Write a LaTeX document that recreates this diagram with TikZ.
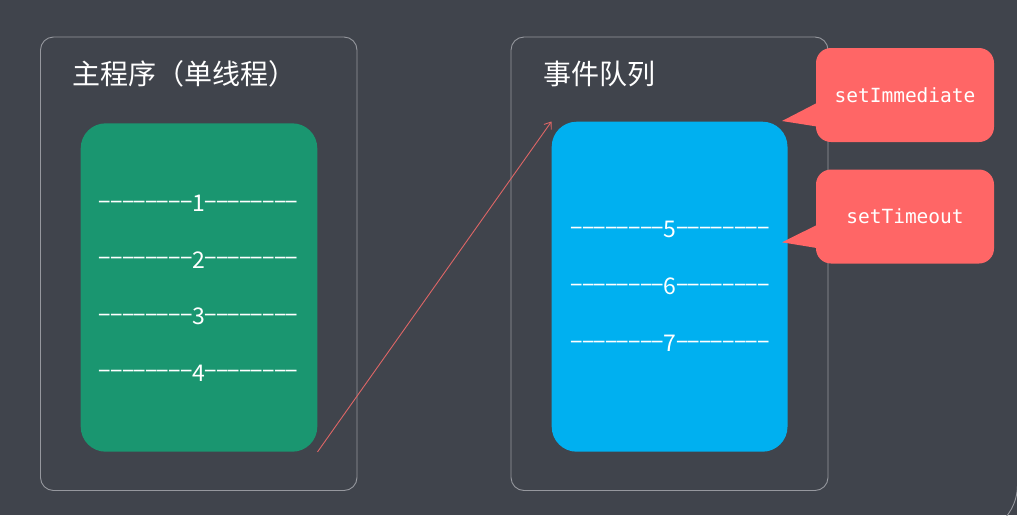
\documentclass[tikz,border=0pt]{standalone}
\usepackage{fontspec}
\usepackage{graphicx}
\usetikzlibrary{arrows.meta,calc}
\newfontfamily\cjk{Noto Sans CJK SC}
\newfontfamily\mono{DejaVu Sans Mono}
\definecolor{bgc}{RGB}{64,68,76}
\definecolor{framec}{RGB}{150,152,158}
\definecolor{greenc}{RGB}{26,150,112}
\definecolor{bluec}{RGB}{0,176,240}
\definecolor{redc}{RGB}{255,102,102}
\definecolor{arrowc}{RGB}{222,102,102}
\newcommand\hy{\makebox[11.6pt]{\raisebox{3.5pt}{\scalebox{1.8}[1]{-}}}}
\newcommand\dline[1]{\hy\hy\hy\hy\hy\hy\hy\hy#1\hy\hy\hy\hy\hy\hy\hy\hy}
\begin{document}
\begin{tikzpicture}[x=1pt,y=-1pt,
 frame/.style={draw=framec,line width=0.9pt,rounded corners=13pt,inner sep=0pt},
 panel/.style={rounded corners=25pt,draw=none,inner sep=0pt},
 title/.style={font=\cjk\fontsize{28pt}{30pt}\selectfont,text=white,anchor=base west,inner sep=0pt},
 dl/.style={font=\cjk\fontsize{23pt}{25pt}\selectfont,text=white,anchor=base,inner sep=0pt},
 callout/.style={fill=redc,rounded corners=15pt,minimum width=178pt,minimum height=94pt,inner sep=0pt,
   font=\mono\fontsize{19.5pt}{21pt}\selectfont,text=white},
 link/.style={draw=arrowc,line width=0.9pt,-{Straight Barb[length=6pt,width=9pt]}}]
\useasboundingbox (0,0) rectangle (1017,515);
\fill[bgc] (0,0) rectangle (1017,515);
\begin{scope}
\clip (0,0) rectangle (1017,515);
\draw[framec,line width=0.9pt,rounded corners=50pt] (-100,-100) rectangle (1017.5,535);
\end{scope}
% frames
\node[frame,minimum width=316.5pt,minimum height=453.5pt] (lf) at (198.75,263.75) {};
\node[frame,minimum width=317pt,minimum height=453.5pt] (rf) at (669.5,263.75) {};
% titles
\node[title] (lt) at (72,84) {主程序（单线程）};
\node[title] (rt) at (543,84) {事件队列};
% panels
\node[panel,fill=greenc,minimum width=236.6pt,minimum height=328.4pt] (gp) at (199,287.5) {};
\node[panel,fill=bluec,minimum width=235.8pt,minimum height=330pt] (bp) at (669.6,286.7) {};
% dashed number lines
\node[dl] (l1) at (198.5,211.7) {\dline{1}};
\node[dl] (l2) at (198.5,268) {\dline{2}};
\node[dl] (l3) at (198.5,324.5) {\dline{3}};
\node[dl] (l4) at (198.5,381) {\dline{4}};
\node[dl] (l5) at (670,237.7) {\dline{5}};
\node[dl] (l6) at (670,294.7) {\dline{6}};
\node[dl] (l7) at (670,351.7) {\dline{7}};
% callouts
\node[callout] (si) at (905,95) {setImmediate};
\node[callout] (st) at (905,216.5) {setTimeout};
\coordinate (tip1) at (782,121);
\coordinate (tip2) at (782,242.3);
\fill[redc] ($(si.west)+(1,8)$) -- (tip1) -- ($(si.west)+(1,31.5)$) -- cycle;
\fill[redc] ($(st.west)+(1,8.5)$) -- (tip2) -- ($(st.west)+(1,31.5)$) -- cycle;
% arrow
\draw[link] (gp.south east) -- (bp.north west);
\end{tikzpicture}
\end{document}
